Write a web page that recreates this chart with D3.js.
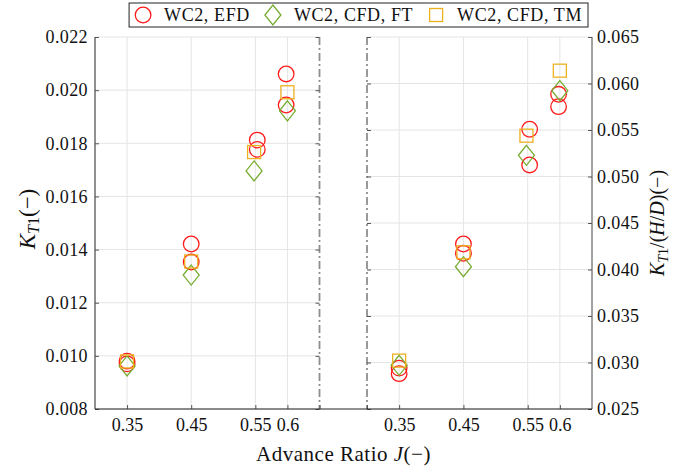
<!DOCTYPE html>
<html>
<head>
<meta charset="utf-8">
<script src="https://cdn.jsdelivr.net/npm/d3@7"></script>
<style>
  body { margin: 0; background: #fff; }
  text { font-family: "Liberation Serif", "Times New Roman", serif; fill: #111; }
</style>
</head>
<body>
<svg id="chart"></svg>
<script>
// ---- data ----
var jTicks = [0.35, 0.45, 0.55, 0.6];
var jEFD = [0.35, 0.45, 0.553, 0.598];
var jCFD = [0.35, 0.45, 0.548, 0.6];

// left panel: K_T1
var kt1EFD_a = [0.00980, 0.01421, 0.01812, 0.02061];
var kt1EFD_b = [0.00970, 0.01353, 0.01777, 0.01944];
var kt1FT    = [0.00962, 0.01304, 0.01696, 0.01922];
var kt1TM    = [0.00979, 0.01355, 0.01767, 0.01992];

// right panel: K_T1 / (H/D)
var ratioEFD_a = [0.0294, 0.04274, 0.05508, 0.05884];
var ratioEFD_b = [0.0288, 0.04174, 0.05124, 0.05751];
var ratioFT    = [0.0297, 0.04030, 0.05228, 0.05923];
var ratioTM    = [0.0302, 0.04185, 0.05439, 0.06138];

var leftTicks  = [0.008, 0.010, 0.012, 0.014, 0.016, 0.018, 0.020, 0.022];
var rightTicks = [0.025, 0.030, 0.035, 0.040, 0.045, 0.050, 0.055, 0.060, 0.065];

var seriesNames = ["WC2, EFD", "WC2, CFD, FT", "WC2, CFD, TM"];
var colors = {efd: "#ff1a1a", ft: "#77ac30", tm: "#edb120"};

// ---- layout ----
var width = 691, height = 472;
var margin = {top: 37, bottom: 63, left: 95, right: 99};
var plotBottom = height - margin.bottom;
var plotRight = width - margin.right;
var gapL = 319.5, gapR = 367;

var svg = d3.select("#chart").attr("width", width).attr("height", height);

var xL = d3.scaleLinear().domain([0.3, 0.65]).range([margin.left, gapL]);
var xR = d3.scaleLinear().domain([0.3, 0.65]).range([gapR, plotRight]);
var yL = d3.scaleLinear().domain([0.008, 0.022]).range([plotBottom, margin.top]);
var yR = d3.scaleLinear().domain([0.025, 0.065]).range([plotBottom, margin.top]);

var grid = svg.append("g").attr("stroke", "#e4e4e4").attr("stroke-width", 1);

// vertical grid
[xL, xR].forEach(function(xs) {
  grid.selectAll(null).data(jTicks).enter().append("line")
    .attr("x1", d => xs(d)).attr("x2", d => xs(d))
    .attr("y1", margin.top).attr("y2", plotBottom);
});
// horizontal grid, one set per panel
grid.selectAll(null).data(leftTicks).enter().append("line")
  .attr("x1", margin.left).attr("x2", gapL)
  .attr("y1", d => yL(d)).attr("y2", d => yL(d));
grid.selectAll(null).data(rightTicks).enter().append("line")
  .attr("x1", gapR).attr("x2", plotRight)
  .attr("y1", d => yR(d)).attr("y2", d => yR(d));

// dash-dot panel separators
[xL(0.65), xR(0.3)].forEach(function(x) {
  svg.append("line")
    .attr("x1", x).attr("x2", x)
    .attr("y1", margin.top).attr("y2", plotBottom)
    .attr("stroke", "#8f8f8f").attr("stroke-width", 1.8)
    .attr("stroke-dasharray", "8,3,2,3");
});

// axes
var fmt3 = d3.format(".3f");
var leftAxis = svg.append("g")
  .attr("transform", "translate(" + margin.left + ",0)")
  .call(d3.axisLeft(yL).tickValues(leftTicks).tickFormat(fmt3).tickSize(-4).tickPadding(7));
var rightAxis = svg.append("g")
  .attr("transform", "translate(" + plotRight + ",0)")
  .call(d3.axisRight(yR).tickValues(rightTicks).tickFormat(fmt3).tickSize(-4).tickPadding(5));
leftAxis.selectAll(".tick text").style("letter-spacing", "0.4px");
rightAxis.selectAll(".tick text").style("letter-spacing", "0.4px");

// ticks on the separators
svg.append("g").attr("transform", "translate(" + gapL + ",0)")
  .call(d3.axisRight(yL).tickValues(leftTicks).tickFormat("").tickSize(-4))
  .call(g => g.select(".domain").remove())
  .call(g => g.selectAll("text").remove());
svg.append("g").attr("transform", "translate(" + gapR + ",0)")
  .call(d3.axisLeft(yR).tickValues(rightTicks).tickFormat("").tickSize(-4))
  .call(g => g.select(".domain").remove())
  .call(g => g.selectAll("text").remove());

var fmtJ = d => String(d);
var bottomL = svg.append("g").attr("transform", "translate(0," + plotBottom + ")")
  .call(d3.axisBottom(xL).tickValues(jTicks).tickFormat(fmtJ).tickSize(-4).tickPadding(9));
var bottomR = svg.append("g").attr("transform", "translate(0," + plotBottom + ")")
  .call(d3.axisBottom(xR).tickValues(jTicks).tickFormat(fmtJ).tickSize(-4).tickPadding(9));
// unlabeled ticks at the panel edges
var bottomEdge = svg.append("g").attr("transform", "translate(0," + plotBottom + ")");
bottomEdge.append("g").call(d3.axisBottom(xL).tickValues([0.65]).tickFormat("").tickSize(-4));
bottomEdge.append("g").call(d3.axisBottom(xR).tickValues([0.3]).tickFormat("").tickSize(-4));
bottomEdge.selectAll(".domain").remove();
bottomEdge.selectAll("text").remove();
bottomL.select(".domain").remove();
bottomR.select(".domain").remove();
svg.append("line")
  .attr("x1", margin.left).attr("x2", plotRight)
  .attr("y1", plotBottom).attr("y2", plotBottom)
  .attr("stroke", "#222").attr("stroke-width", 1);

svg.selectAll(".tick line").attr("stroke", "#555");
svg.selectAll(".tick text")
  .attr("font-family", "Liberation Serif, serif")
  .attr("font-size", 18).attr("fill", "#111");
leftAxis.select(".domain").attr("stroke", "#222").attr("d", "M0," + margin.top + "V" + plotBottom);
rightAxis.select(".domain").attr("stroke", "#444").attr("d", "M0," + margin.top + "V" + plotBottom);

// ---- markers ----
function drawCircles(js, vals, xs, ys) {
  svg.append("g").selectAll("circle").data(vals).enter().append("circle")
    .attr("cx", (d, i) => xs(js[i])).attr("cy", d => ys(d)).attr("r", 7.8)
    .attr("fill", "none").attr("stroke", colors.efd).attr("stroke-width", 1.3);
}
function drawDiamonds(js, vals, xs, ys) {
  svg.append("g").selectAll("path").data(vals).enter().append("path")
    .attr("d", (d, i) => {
      var x = xs(js[i]), y = ys(d);
      return "M" + x + "," + (y - 10) + "L" + (x + 8) + "," + y + "L" + x + "," + (y + 10) + "L" + (x - 8) + "," + y + "Z";
    })
    .attr("fill", "none").attr("stroke", colors.ft).attr("stroke-width", 1.3);
}
function drawSquares(js, vals, xs, ys) {
  svg.append("g").selectAll("rect").data(vals).enter().append("rect")
    .attr("x", (d, i) => xs(js[i]) - 6.5).attr("y", d => ys(d) - 6.5)
    .attr("width", 13).attr("height", 13)
    .attr("fill", "none").attr("stroke", colors.tm).attr("stroke-width", 1.3);
}

drawCircles(jEFD, kt1EFD_a, xL, yL);
drawCircles(jEFD, kt1EFD_b, xL, yL);
drawDiamonds(jCFD, kt1FT, xL, yL);
drawSquares(jCFD, kt1TM, xL, yL);

drawCircles(jEFD, ratioEFD_a, xR, yR);
drawCircles(jEFD, ratioEFD_b, xR, yR);
drawDiamonds(jCFD, ratioFT, xR, yR);
drawSquares(jCFD, ratioTM, xR, yR);

// ---- axis labels ----
var xlab = svg.append("text")
  .attr("x", (margin.left + plotRight) / 2).attr("y", 461)
  .attr("text-anchor", "middle").attr("font-size", 21)
  .style("letter-spacing", "0.5px");
xlab.append("tspan").text("Advance Ratio ");
xlab.append("tspan").attr("font-style", "italic").text("J");
xlab.append("tspan").text("(\u2212)");

var ylab = svg.append("text")
  .attr("transform", "translate(35," + ((margin.top + plotBottom) / 2 - 4) + ") rotate(-90)")
  .attr("text-anchor", "middle").attr("font-size", 23);
ylab.append("tspan").attr("font-style", "italic").text("K");
ylab.append("tspan").attr("font-style", "italic").attr("font-size", 16).attr("dy", 4).text("T");
ylab.append("tspan").attr("font-size", 16).text("1");
ylab.append("tspan").attr("dy", -4).text("(\u2212)");

var rlab = svg.append("text")
  .attr("transform", "translate(664," + ((margin.top + plotBottom) / 2) + ") rotate(-90)")
  .attr("text-anchor", "middle").attr("font-size", 20);
rlab.append("tspan").attr("font-style", "italic").text("K");
rlab.append("tspan").attr("font-style", "italic").attr("font-size", 14).attr("dy", 4).text("T");
rlab.append("tspan").attr("font-size", 14).text("1");
rlab.append("tspan").attr("dy", -4).text("/(");
rlab.append("tspan").attr("font-style", "italic").text("H");
rlab.append("tspan").text("/");
rlab.append("tspan").attr("font-style", "italic").text("D");
rlab.append("tspan").text(")(\u2212)");

// ---- legend (laid out from the right edge) ----
var legend = svg.append("g");
var legBox = legend.append("rect").attr("fill", "#fff").attr("stroke", "#222").attr("stroke-width", 1);
var legY = 15;
var xCursor = 588 - 6;
var markerKinds = ["efd", "ft", "tm"];
var entries = [];
for (var i = seriesNames.length - 1; i >= 0; i--) {
  var t = legend.append("text").attr("font-size", 18).style("letter-spacing", "0.6px")
    .attr("y", legY + 6).text(seriesNames[i]);
  var w = t.node().getComputedTextLength();
  t.attr("x", xCursor - w);
  var mx = xCursor - w - 21;
  entries.push({kind: markerKinds[i], x: mx});
  xCursor = mx - 23;
}
entries.forEach(function(e) {
  if (e.kind === "efd") drawCircles([0], [0], () => e.x, () => legY);
  if (e.kind === "ft") drawDiamonds([0], [0], () => e.x, () => legY);
  if (e.kind === "tm") drawSquares([0], [0], () => e.x, () => legY);
});
var leftEdge = entries[entries.length - 1].x - 14;
legBox.attr("x", leftEdge).attr("y", 3).attr("width", 588 - leftEdge).attr("height", 24);
</script>
</body>
</html>
